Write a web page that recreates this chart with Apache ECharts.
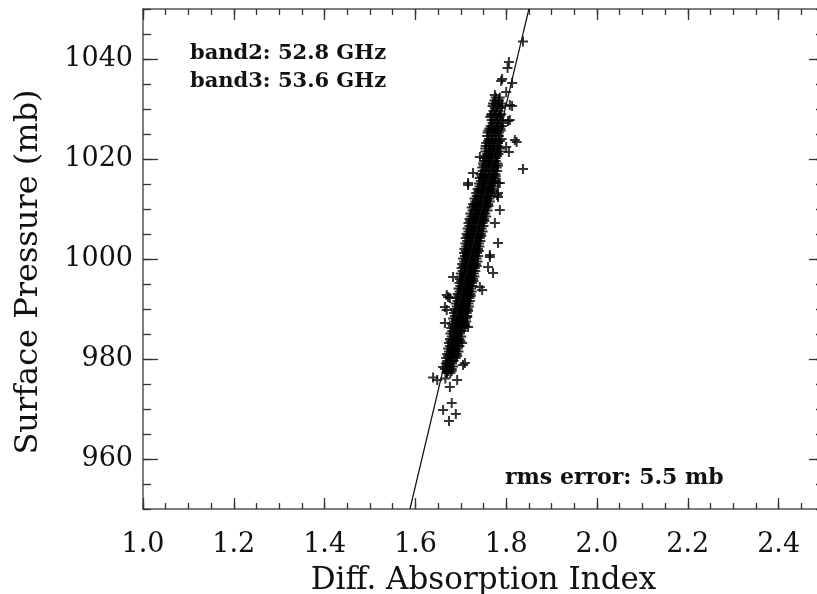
<!DOCTYPE html>
<html>
<head>
<meta charset="utf-8">
<script src="https://cdn.jsdelivr.net/npm/echarts@6/dist/echarts.min.js"></script>
<style>
  html, body { margin: 0; padding: 0; background: #fff; }
  #chart { width: 817px; height: 594px; }
</style>
</head>
<body>
<div id="chart"></div>
<script>
  // axis ranges and ticks
  const xRange = [1.0, 2.5];
  const yRange = [950, 1050];
  const xMajor = [1.0, 1.2, 1.4, 1.6, 1.8, 2.0, 2.2, 2.4];
  const yMajor = [960, 980, 1000, 1020, 1040];
  const xMinorStep = 0.05;
  const yMinorStep = 5;

  // regression line end points
  const fitLine = [[1.588, 950], [1.850, 1050]];

  // dense core of the cloud, read row by row: [pressure, [index values]]
  const coreRows = [
    [1032.3, [1.777, 1.786]],
    [1031.7, [1.774, 1.784]],
    [1031.1, [1.771, 1.782, 1.791]],
    [1030.6, [1.770, 1.780, 1.790]],
    [1030.2, [1.775, 1.787]],
    [1029.6, [1.772, 1.783]],
    [1029.0, [1.768, 1.779, 1.789]],
    [1028.7, [1.767, 1.777, 1.787]],
    [1028.4, [1.765, 1.774, 1.785]],
    [1027.8, [1.768, 1.779, 1.789]],
    [1027.2, [1.770, 1.781, 1.793]],
    [1026.6, [1.766, 1.775, 1.783, 1.791]],
    [1026.1, [1.763, 1.771, 1.780, 1.787]],
    [1025.7, [1.761, 1.772, 1.780, 1.788]],
    [1025.3, [1.759, 1.768, 1.776, 1.784]],
    [1024.6, [1.758, 1.766, 1.774, 1.784]],
    [1024.0, [1.762, 1.770, 1.779, 1.790]],
    [1023.6, [1.760, 1.769, 1.778, 1.786]],
    [1023.2, [1.756, 1.766, 1.773, 1.782]],
    [1022.6, [1.755, 1.764, 1.772, 1.781]],
    [1022.1, [1.754, 1.763, 1.771, 1.778, 1.787]],
    [1021.5, [1.754, 1.762, 1.770, 1.779, 1.786]],
    [1021.0, [1.758, 1.766, 1.775, 1.783]],
    [1020.6, [1.755, 1.764, 1.772, 1.780]],
    [1020.2, [1.751, 1.760, 1.768, 1.777]],
    [1019.6, [1.753, 1.761, 1.769, 1.777]],
    [1019.1, [1.749, 1.757, 1.764, 1.772, 1.781]],
    [1018.7, [1.751, 1.759, 1.767, 1.775, 1.782]],
    [1018.3, [1.747, 1.755, 1.763, 1.770, 1.779]],
    [1017.6, [1.748, 1.757, 1.765, 1.773, 1.780]],
    [1017.0, [1.744, 1.752, 1.761, 1.769, 1.776]],
    [1016.6, [1.746, 1.754, 1.762, 1.770, 1.777]],
    [1016.2, [1.742, 1.750, 1.757, 1.766, 1.774]],
    [1015.6, [1.744, 1.752, 1.760, 1.768, 1.775]],
    [1015.1, [1.740, 1.748, 1.756, 1.764, 1.771]],
    [1014.5, [1.741, 1.750, 1.758, 1.765, 1.772]],
    [1014.0, [1.737, 1.746, 1.753, 1.761, 1.769]],
    [1013.6, [1.739, 1.747, 1.755, 1.762, 1.769]],
    [1013.2, [1.734, 1.743, 1.750, 1.758, 1.765]],
    [1012.6, [1.735, 1.743, 1.751, 1.759, 1.767]],
    [1012.1, [1.730, 1.739, 1.747, 1.755, 1.763]],
    [1011.5, [1.732, 1.741, 1.749, 1.756, 1.764]],
    [1011.0, [1.727, 1.736, 1.744, 1.752, 1.760]],
    [1010.6, [1.729, 1.737, 1.745, 1.753, 1.761]],
    [1010.3, [1.724, 1.733, 1.741, 1.749, 1.757]],
    [1009.7, [1.726, 1.735, 1.743, 1.751, 1.759]],
    [1009.1, [1.721, 1.730, 1.738, 1.745, 1.754]],
    [1008.5, [1.723, 1.732, 1.740, 1.748, 1.756]],
    [1008.0, [1.719, 1.727, 1.735, 1.743, 1.751]],
    [1007.6, [1.721, 1.729, 1.737, 1.745, 1.752]],
    [1007.2, [1.717, 1.725, 1.733, 1.740, 1.748]],
    [1006.6, [1.719, 1.727, 1.735, 1.742, 1.750]],
    [1006.1, [1.715, 1.723, 1.730, 1.738, 1.746]],
    [1005.5, [1.717, 1.725, 1.732, 1.740, 1.748]],
    [1005.0, [1.713, 1.721, 1.728, 1.736, 1.744]],
    [1004.6, [1.715, 1.723, 1.730, 1.738, 1.745]],
    [1004.2, [1.711, 1.719, 1.726, 1.734, 1.742]],
    [1003.6, [1.714, 1.721, 1.728, 1.736, 1.743]],
    [1003.1, [1.710, 1.717, 1.724, 1.732, 1.740]],
    [1002.5, [1.712, 1.720, 1.727, 1.734, 1.741]],
    [1002.0, [1.708, 1.716, 1.723, 1.730, 1.738]],
    [1001.6, [1.711, 1.718, 1.725, 1.733, 1.740]],
    [1001.2, [1.707, 1.714, 1.721, 1.729, 1.736]],
    [1000.6, [1.709, 1.716, 1.724, 1.731, 1.738]],
    [1000.1, [1.705, 1.712, 1.720, 1.727, 1.735]],
    [999.5, [1.707, 1.715, 1.722, 1.729, 1.737]],
    [999.0, [1.703, 1.711, 1.718, 1.725, 1.733]],
    [998.6, [1.706, 1.713, 1.720, 1.728, 1.735]],
    [998.2, [1.702, 1.709, 1.716, 1.724, 1.731]],
    [997.6, [1.704, 1.711, 1.718, 1.725, 1.732]],
    [997.1, [1.700, 1.707, 1.714, 1.721, 1.729]],
    [996.5, [1.702, 1.709, 1.717, 1.724, 1.730]],
    [996.0, [1.698, 1.705, 1.713, 1.720, 1.727]],
    [995.6, [1.701, 1.708, 1.715, 1.722, 1.728]],
    [995.2, [1.697, 1.704, 1.711, 1.718, 1.725]],
    [994.6, [1.699, 1.706, 1.713, 1.720, 1.726]],
    [994.1, [1.695, 1.702, 1.709, 1.716, 1.723]],
    [993.5, [1.697, 1.704, 1.711, 1.718, 1.724]],
    [993.0, [1.693, 1.700, 1.707, 1.714, 1.721]],
    [992.6, [1.695, 1.702, 1.709, 1.716, 1.722]],
    [992.2, [1.691, 1.698, 1.705, 1.712, 1.719]],
    [991.6, [1.693, 1.700, 1.707, 1.714, 1.720]],
    [991.1, [1.689, 1.696, 1.703, 1.710, 1.717]],
    [990.5, [1.691, 1.698, 1.705, 1.712, 1.718]],
    [990.0, [1.687, 1.694, 1.701, 1.708, 1.715]],
    [989.6, [1.689, 1.696, 1.703, 1.710, 1.716]],
    [989.2, [1.685, 1.692, 1.699, 1.706, 1.713]],
    [988.6, [1.687, 1.694, 1.701, 1.708, 1.714]],
    [988.1, [1.683, 1.690, 1.697, 1.704, 1.711]],
    [987.5, [1.685, 1.692, 1.699, 1.706, 1.712]],
    [987.0, [1.681, 1.688, 1.695, 1.702, 1.709]],
    [986.6, [1.683, 1.690, 1.697, 1.704, 1.710]],
    [986.2, [1.679, 1.686, 1.693, 1.700, 1.707]],
    [985.6, [1.681, 1.688, 1.695, 1.702]],
    [985.1, [1.677, 1.684, 1.691, 1.698]],
    [984.5, [1.680, 1.687, 1.694, 1.701]],
    [984.0, [1.676, 1.683, 1.690, 1.697]],
    [983.6, [1.678, 1.685, 1.692, 1.699]],
    [983.2, [1.674, 1.681, 1.688, 1.695]],
    [982.6, [1.676, 1.683, 1.690, 1.697]],
    [982.1, [1.672, 1.679, 1.686, 1.693]],
    [981.5, [1.674, 1.681, 1.688, 1.695]],
    [981.0, [1.670, 1.677, 1.684, 1.691]],
    [980.6, [1.672, 1.679, 1.686, 1.692]],
    [980.2, [1.668, 1.675, 1.682, 1.689]],
    [979.6, [1.670, 1.677, 1.684]],
    [979.1, [1.667, 1.674, 1.681]],
    [978.5, [1.669, 1.676, 1.683]],
    [978.0, [1.665, 1.673, 1.680]],
    [977.6, [1.672, 1.680]],
    [977.2, [1.669, 1.677]],
    [976.1, [1.666]]
  ];

  // scattered points around the core: [index, pressure]
  const outliers = [
    [1.837, 1043.5], [1.806, 1039.4], [1.803, 1038.2], [1.789, 1035.6], [1.813, 1035.2],
    [1.791, 1036.0], [1.775, 1032.8], [1.800, 1033.4], [1.808, 1030.8], [1.776, 1031.0],
    [1.813, 1030.6], [1.808, 1027.8], [1.804, 1027.6], [1.823, 1023.4], [1.819, 1023.8],
    [1.800, 1022.4], [1.806, 1021.4], [1.837, 1018.0], [1.742, 1020.4], [1.716, 1014.8],
    [1.727, 1017.2], [1.716, 1015.2], [1.782, 1012.4], [1.786, 1009.8], [1.782, 1015.2],
    [1.786, 1015.2], [1.780, 1012.8], [1.782, 1013.2], [1.775, 1007.2], [1.782, 1003.2],
    [1.771, 997.2], [1.764, 1000.8], [1.764, 1000.4], [1.760, 998.4], [1.683, 996.4],
    [1.747, 993.8], [1.742, 994.4], [1.676, 992.2], [1.669, 989.8], [1.672, 992.4],
    [1.669, 992.8], [1.665, 990.4], [1.665, 987.2], [1.716, 986.4], [1.714, 988.4],
    [1.703, 983.2], [1.709, 979.2], [1.705, 978.8], [1.648, 975.8], [1.692, 975.8],
    [1.676, 974.4], [1.680, 971.2], [1.661, 969.8], [1.689, 969.0], [1.674, 967.6],
    [1.669, 977.4], [1.661, 978.4], [1.639, 976.3]
  ];

  const serif = 'DejaVu Serif';
  const ink = '#111';

  let scatterData = [];
  coreRows.forEach(function (row) {
    row[1].forEach(function (x) { scatterData.push([x, row[0]]); });
  });
  scatterData = scatterData.concat(outliers);

  function majorX(pos, labels) {
    return {
      type: 'value', position: pos, min: xRange[0], max: xRange[1], interval: xMinorStep,
      axisLine: { show: true, lineStyle: { color: '#555', width: 1.5 } },
      axisTick: { show: true, inside: true, length: 6, lineStyle: { color: '#333', width: 1.3 } },
      axisLabel: {
        show: labels, customValues: xMajor, margin: 22,
        formatter: function (v) { return v.toFixed(1); },
        color: ink, fontFamily: serif, fontSize: 27
      },
      splitLine: { show: false }
    };
  }
  function longX(pos) {
    return {
      type: 'value', position: pos, min: xRange[0], max: xRange[1],
      axisLine: { show: false },
      axisTick: { show: true, inside: true, length: 11, customValues: xMajor, lineStyle: { color: '#333', width: 1.3 } },
      axisLabel: { show: false },
      splitLine: { show: false }
    };
  }
  function majorY(pos, labels) {
    return {
      type: 'value', position: pos, min: yRange[0], max: yRange[1], interval: yMinorStep,
      axisLine: { show: true, lineStyle: { color: '#555', width: 1.5 } },
      axisTick: { show: true, inside: true, length: 8, lineStyle: { color: '#333', width: 1.3 } },
      axisLabel: {
        show: labels, customValues: yMajor, margin: 10,
        formatter: function (v) { return String(v); },
        color: ink, fontFamily: serif, fontSize: 27
      },
      splitLine: { show: false }
    };
  }
  function longY(pos) {
    return {
      type: 'value', position: pos, min: yRange[0], max: yRange[1],
      axisLine: { show: false },
      axisTick: { show: true, inside: true, length: 15, customValues: yMajor, lineStyle: { color: '#333', width: 1.3 } },
      axisLabel: { show: false },
      splitLine: { show: false }
    };
  }

  const xBottom = majorX('bottom', true);
  xBottom.name = 'Diff. Absorption Index';
  xBottom.nameLocation = 'middle';
  xBottom.nameGap = 56;
  xBottom.nameTextStyle = { color: ink, fontFamily: serif, fontSize: 31 };

  const chart = echarts.init(document.getElementById('chart'));
  const option = {
    animation: false,
    backgroundColor: '#fff',
    grid: { left: 143, top: 9, width: 681, height: 500, containLabel: false, outerBoundsMode: 'none' },
    xAxis: [xBottom, longX('bottom'), majorX('top', false), longX('top')],
    yAxis: [majorY('left', true), longY('left'), majorY('right', false), longY('right')],
    graphic: [
      {
        type: 'text', x: 29, y: 272, rotation: Math.PI / 2,
        style: { text: 'Surface Pressure (mb)', fill: ink, fontFamily: serif, fontSize: 32, align: 'center', verticalAlign: 'middle' }
      },
      { type: 'text', left: 190, top: 43, style: { text: 'band2: 52.8 GHz', fill: ink, fontFamily: serif, fontSize: 21, fontWeight: 'bold' } },
      { type: 'text', left: 190, top: 71, style: { text: 'band3: 53.6 GHz', fill: ink, fontFamily: serif, fontSize: 21, fontWeight: 'bold' } },
      { type: 'text', left: 505, top: 467, style: { text: 'rms error: 5.5 mb', fill: ink, fontFamily: serif, fontSize: 22, fontWeight: 'bold' } }
    ],
    series: [
      {
        type: 'scatter',
        xAxisIndex: 0, yAxisIndex: 0,
        symbol: 'path://M4,0h2v4h4v2h-4v4h-2v-4h-4v-2h4z',
        symbolSize: 10,
        itemStyle: { color: '#000' },
        data: scatterData
      },
      {
        type: 'line',
        xAxisIndex: 0, yAxisIndex: 0,
        symbol: 'none',
        lineStyle: { color: '#111', width: 1.2 },
        data: fitLine
      }
    ]
  };
  chart.setOption(option);
</script>
</body>
</html>
